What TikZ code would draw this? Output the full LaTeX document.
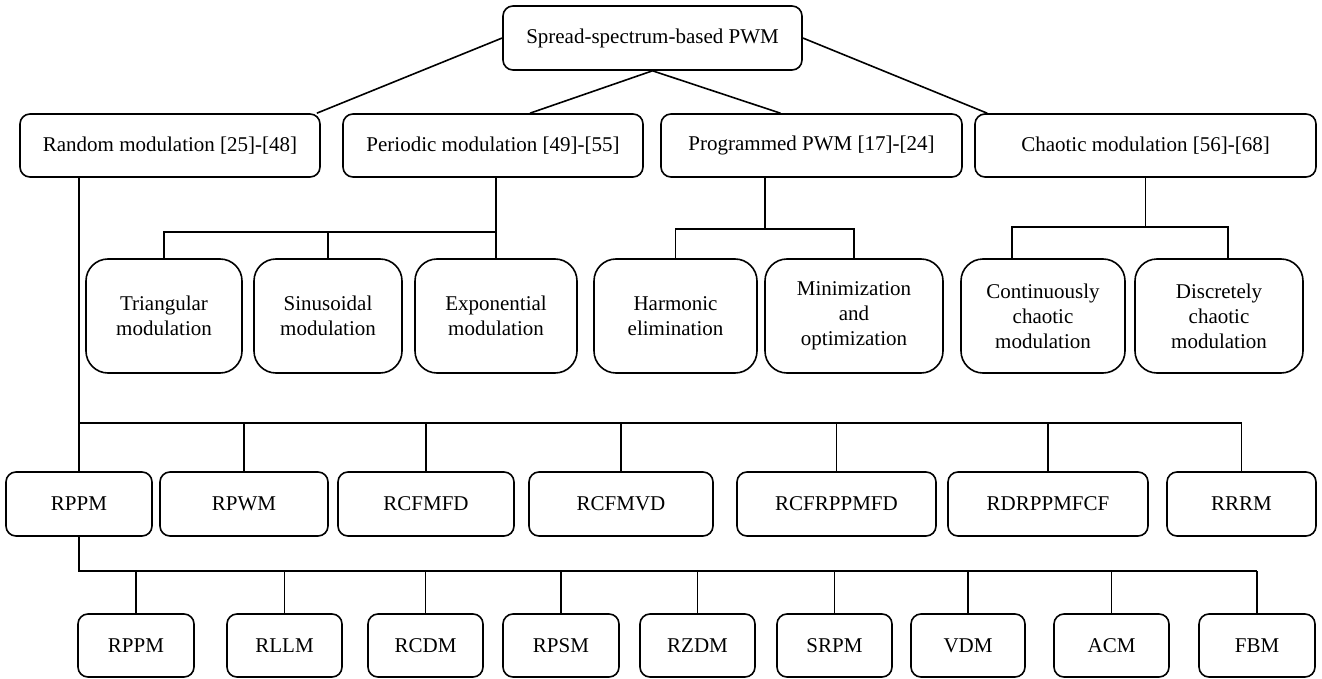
\documentclass[tikz,border=0pt]{standalone}
\usepackage{fontspec}
\setmainfont{Liberation Serif}
\begin{document}
\begin{tikzpicture}[x=1pt, y=-1pt, line width=1.6pt,
    font=\fontsize{21}{25}\selectfont,
    box/.style={draw, rounded corners=10pt, inner sep=0pt, align=center},
    tall/.style={box, rounded corners=22pt, minimum height=114pt}]
  \useasboundingbox (0,0) rectangle (1322,679);
  % root, families, sub-methods (pixel grid, y downwards)
  \node[box, minimum width=299, minimum height=64] (root) at (652.5,38) {Spread-spectrum-based PWM};
  \foreach \n/\x/\w/\t in {
      rand/170/300/{Random modulation [25]-[48]},
      peri/493/300/{Periodic modulation [49]-[55]},
      prog/811.5/301/{Programmed PWM [17]-[24]},
      chaos/1145.5/341/{Chaotic modulation [56]-[68]}}
    \node[box, minimum width=\w, minimum height=63] (\n) at (\x,145.5) {\t};
  \foreach \n/\x/\w/\t in {
      tri/164/156/{Triangular\\modulation},
      sinu/328/148/{Sinusoidal\\modulation},
      expo/496/162/{Exponential\\modulation},
      harm/675.5/163/{Harmonic\\elimination},
      mini/854/178/{Minimization\\and\\optimization},
      cont/1043/164/{Continuously\\chaotic\\modulation},
      disc/1219/168/{Discretely\\chaotic\\modulation}}
    \node[tall, minimum width=\w] (\n) at (\x,316) {\t};
  \foreach \n/\x/\w/\t in {
      rppm/79/146/RPPM, rpwm/244/168/RPWM, rcfmfd/426/176/RCFMFD,
      rcfmvd/621/184/RCFMVD, rcfrppmfd/836.5/199/RCFRPPMFD,
      rdrppmfcf/1048/200/RDRPPMFCF, rrrm/1241.5/149/RRRM}
    \node[box, minimum width=\w, minimum height=64] (\n) at (\x,504) {\t};
  \foreach \n/\x/\w/\t in {
      rppmb/136/116/RPPM, rllm/284.5/115/RLLM, rcdm/425.5/115/RCDM,
      rpsm/561/116/RPSM, rzdm/697.5/115/RZDM, srpm/834.5/115/SRPM,
      vdm/968/114/VDM, acm/1111.5/115/ACM, fbm/1257/116/FBM}
    \node[box, minimum width=\w, minimum height=63] (\n) at (\x,645.5) {\t};

  \draw (root.west) -- ([xshift=-4pt]rand.north east);
  \draw (root.south) -- ([xshift=37pt]peri.north);
  \draw (root.south) -- ([xshift=-31pt]prog.north);
  \draw (root.east) -- ([xshift=13pt]chaos.north west);

  \coordinate (pbus) at (0,232);
  \coordinate (gbus) at (765,229);
  \coordinate (cbus) at (0,227);
  \coordinate (rbus) at (0,423);
  \coordinate (bbus) at (0,571);
  \draw (peri.south -| expo.north) -- (expo.north);
  \draw (tri.north) -- (tri.north |- pbus) -- (expo.north |- pbus);
  \draw (sinu.north) -- (sinu.north |- pbus);
  \draw (prog.south -| gbus) -- (gbus);
  \draw (harm.north) -- (harm.north |- gbus) -- (mini.north |- gbus) -- (mini.north);
  \draw (chaos.south) -- (chaos.south |- cbus);
  \draw ([xshift=-31pt]cont.north) -- ([xshift=-31pt]cont.north |- cbus)
    -- ([xshift=9pt]disc.north |- cbus) -- ([xshift=9pt]disc.north);
  \draw (rand.south -| rppm.north) -- (rppm.north);
  \draw (rppm.north |- rbus) -- (rrrm.north |- rbus);
  \foreach \n in {rpwm, rcfmfd, rcfmvd, rcfrppmfd, rdrppmfcf, rrrm}
    \draw (\n.north) -- (\n.north |- rbus);
  \draw (rppm.south) -- (rppm.south |- bbus) -- (fbm.north |- bbus);
  \foreach \n in {rppmb, rllm, rcdm, rpsm, rzdm, srpm, vdm, acm, fbm}
    \draw (\n.north) -- (\n.north |- bbus);
\end{tikzpicture}
\end{document}
